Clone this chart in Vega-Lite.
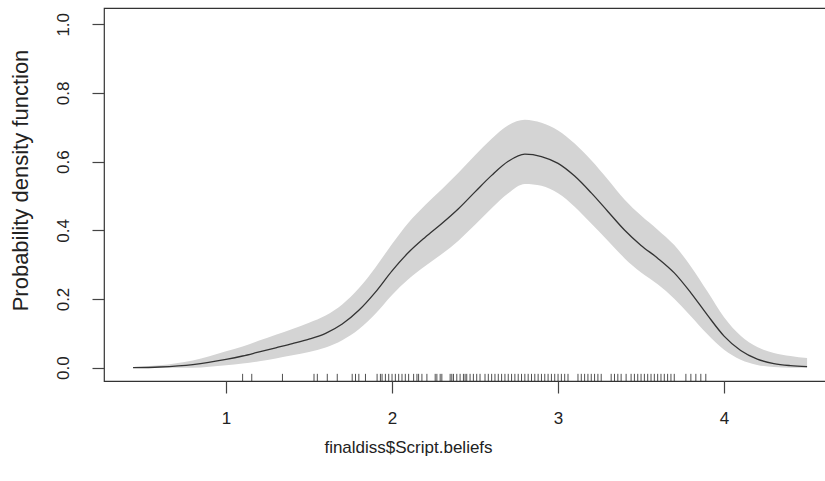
{
  "$schema": "https://vega.github.io/schema/vega-lite/v6.json",
  "autosize": "none",
  "padding": {"left": 104, "top": 8, "right": 0, "bottom": 100},
  "width": 722,
  "height": 373,
  "background": "white",
  "config": {
    "view": {"stroke": "#333333", "strokeWidth": 1.2},
    "font": "Liberation Sans",
    "axis": {
      "grid": false,
      "domain": false,
      "tickColor": "#444444",
      "tickSize": 12,
      "tickWidth": 1.2,
      "labelFont": "Liberation Sans",
      "labelFontSize": 17,
      "labelColor": "#222222",
      "titleFont": "Liberation Sans",
      "titleFontWeight": "normal",
      "titleColor": "#222222"
    }
  },
  "datasets": {
    "curve": [
      {"x": 0.44, "dens": 0.000, "lo": 0.000, "hi": 0.002},
      {"x": 0.6, "dens": 0.002, "lo": 0.000, "hi": 0.007},
      {"x": 0.8, "dens": 0.009, "lo": 0.000, "hi": 0.021},
      {"x": 1.0, "dens": 0.024, "lo": 0.007, "hi": 0.048},
      {"x": 1.1, "dens": 0.034, "lo": 0.012, "hi": 0.062},
      {"x": 1.2, "dens": 0.046, "lo": 0.019, "hi": 0.079},
      {"x": 1.3, "dens": 0.058, "lo": 0.027, "hi": 0.096},
      {"x": 1.4, "dens": 0.070, "lo": 0.036, "hi": 0.113},
      {"x": 1.5, "dens": 0.083, "lo": 0.046, "hi": 0.131},
      {"x": 1.6, "dens": 0.100, "lo": 0.059, "hi": 0.152},
      {"x": 1.7, "dens": 0.127, "lo": 0.080, "hi": 0.184},
      {"x": 1.8, "dens": 0.167, "lo": 0.112, "hi": 0.231},
      {"x": 1.9, "dens": 0.220, "lo": 0.157, "hi": 0.292},
      {"x": 2.0, "dens": 0.282, "lo": 0.212, "hi": 0.360},
      {"x": 2.1, "dens": 0.336, "lo": 0.258, "hi": 0.423},
      {"x": 2.2, "dens": 0.380, "lo": 0.296, "hi": 0.474},
      {"x": 2.3, "dens": 0.420, "lo": 0.331, "hi": 0.520},
      {"x": 2.4, "dens": 0.463, "lo": 0.370, "hi": 0.568},
      {"x": 2.5, "dens": 0.512, "lo": 0.416, "hi": 0.619},
      {"x": 2.6, "dens": 0.560, "lo": 0.464, "hi": 0.667},
      {"x": 2.7, "dens": 0.601, "lo": 0.508, "hi": 0.706},
      {"x": 2.8, "dens": 0.622, "lo": 0.535, "hi": 0.722},
      {"x": 2.9, "dens": 0.615, "lo": 0.530, "hi": 0.713},
      {"x": 3.0, "dens": 0.595, "lo": 0.508, "hi": 0.691},
      {"x": 3.1, "dens": 0.558, "lo": 0.469, "hi": 0.653},
      {"x": 3.2, "dens": 0.509, "lo": 0.420, "hi": 0.604},
      {"x": 3.3, "dens": 0.455, "lo": 0.370, "hi": 0.548},
      {"x": 3.4, "dens": 0.401, "lo": 0.319, "hi": 0.490},
      {"x": 3.5, "dens": 0.356, "lo": 0.277, "hi": 0.443},
      {"x": 3.6, "dens": 0.319, "lo": 0.243, "hi": 0.402},
      {"x": 3.7, "dens": 0.276, "lo": 0.201, "hi": 0.357},
      {"x": 3.8, "dens": 0.218, "lo": 0.150, "hi": 0.295},
      {"x": 3.9, "dens": 0.153, "lo": 0.097, "hi": 0.222},
      {"x": 4.0, "dens": 0.092, "lo": 0.052, "hi": 0.147},
      {"x": 4.1, "dens": 0.050, "lo": 0.023, "hi": 0.093},
      {"x": 4.2, "dens": 0.025, "lo": 0.008, "hi": 0.060},
      {"x": 4.3, "dens": 0.012, "lo": 0.002, "hi": 0.043},
      {"x": 4.4, "dens": 0.006, "lo": 0.000, "hi": 0.034},
      {"x": 4.5, "dens": 0.003, "lo": 0.000, "hi": 0.028}
    ],
    "rug": [
      {"r": 1.10}, {"r": 1.155}, {"r": 1.34}, {"r": 1.53}, {"r": 1.55}, {"r": 1.61}, {"r": 1.67},
      {"r": 1.76}, {"r": 1.78}, {"r": 1.80}, {"r": 1.84}, {"r": 1.91}, {"r": 1.93}, {"r": 1.94},
      {"r": 1.96}, {"r": 1.98}, {"r": 2.00}, {"r": 2.02}, {"r": 2.04}, {"r": 2.06}, {"r": 2.08},
      {"r": 2.10}, {"r": 2.13}, {"r": 2.15}, {"r": 2.16}, {"r": 2.18}, {"r": 2.21}, {"r": 2.26},
      {"r": 2.27}, {"r": 2.29}, {"r": 2.30}, {"r": 2.35}, {"r": 2.36}, {"r": 2.37}, {"r": 2.39},
      {"r": 2.41}, {"r": 2.43}, {"r": 2.44}, {"r": 2.45}, {"r": 2.47}, {"r": 2.49}, {"r": 2.51},
      {"r": 2.53}, {"r": 2.56}, {"r": 2.58}, {"r": 2.60}, {"r": 2.62}, {"r": 2.64}, {"r": 2.66},
      {"r": 2.68}, {"r": 2.70}, {"r": 2.72}, {"r": 2.74}, {"r": 2.76}, {"r": 2.78}, {"r": 2.80},
      {"r": 2.82}, {"r": 2.84}, {"r": 2.86}, {"r": 2.88}, {"r": 2.90}, {"r": 2.92}, {"r": 2.94},
      {"r": 2.96}, {"r": 2.98}, {"r": 3.00}, {"r": 3.02}, {"r": 3.04}, {"r": 3.06}, {"r": 3.12},
      {"r": 3.14}, {"r": 3.16}, {"r": 3.18}, {"r": 3.20}, {"r": 3.22}, {"r": 3.24}, {"r": 3.26},
      {"r": 3.32}, {"r": 3.34}, {"r": 3.36}, {"r": 3.38}, {"r": 3.41}, {"r": 3.44}, {"r": 3.46},
      {"r": 3.48}, {"r": 3.50}, {"r": 3.52}, {"r": 3.54}, {"r": 3.56}, {"r": 3.58}, {"r": 3.60},
      {"r": 3.62}, {"r": 3.64}, {"r": 3.66}, {"r": 3.68}, {"r": 3.70}, {"r": 3.77}, {"r": 3.80},
      {"r": 3.83}, {"r": 3.86}, {"r": 3.89}
    ]
  },
  "layer": [
    {
      "data": {"name": "curve"},
      "mark": {"type": "area", "fill": "#d4d4d4", "interpolate": "monotone", "clip": true},
      "encoding": {
        "x": {"field": "x", "type": "quantitative",
              "scale": {"domain": [0.265, 4.614], "nice": false, "zero": false},
              "axis": {"values": [1, 2, 3, 4], "format": "d", "title": "finaldiss$Script.beliefs",
                       "labelPadding": 17, "titleFontSize": 17, "titleX": 304, "titleY": 66,
                       "titleAlign": "center", "titleBaseline": "middle"}},
        "y": {"field": "lo", "type": "quantitative",
              "scale": {"domain": [-0.0388, 1.0475], "nice": false, "zero": false},
              "axis": {"values": [0, 0.2, 0.4, 0.6, 0.8, 1.0], "format": ".1f", "labelAngle": 270,
                       "labelAlign": "center", "labelBaseline": "bottom", "labelPadding": 20,
                       "title": "Probability density function", "titleFontSize": 22,
                       "titleAngle": 270, "titleX": -77, "titleY": 172,
                       "titleAlign": "center", "titleBaseline": "alphabetic"}},
        "y2": {"field": "hi"}
      }
    },
    {
      "data": {"name": "curve"},
      "mark": {"type": "line", "stroke": "#333333", "strokeWidth": 1.3, "interpolate": "monotone", "clip": true},
      "encoding": {
        "x": {"field": "x", "type": "quantitative"},
        "y": {"field": "dens", "type": "quantitative"}
      }
    },
    {
      "data": {"name": "rug"},
      "mark": {"type": "rule", "stroke": "#222222", "strokeWidth": 0.8},
      "encoding": {
        "x": {"field": "r", "type": "quantitative"},
        "y": {"datum": -0.0388},
        "y2": {"datum": -0.018}
      }
    }
  ]
}
